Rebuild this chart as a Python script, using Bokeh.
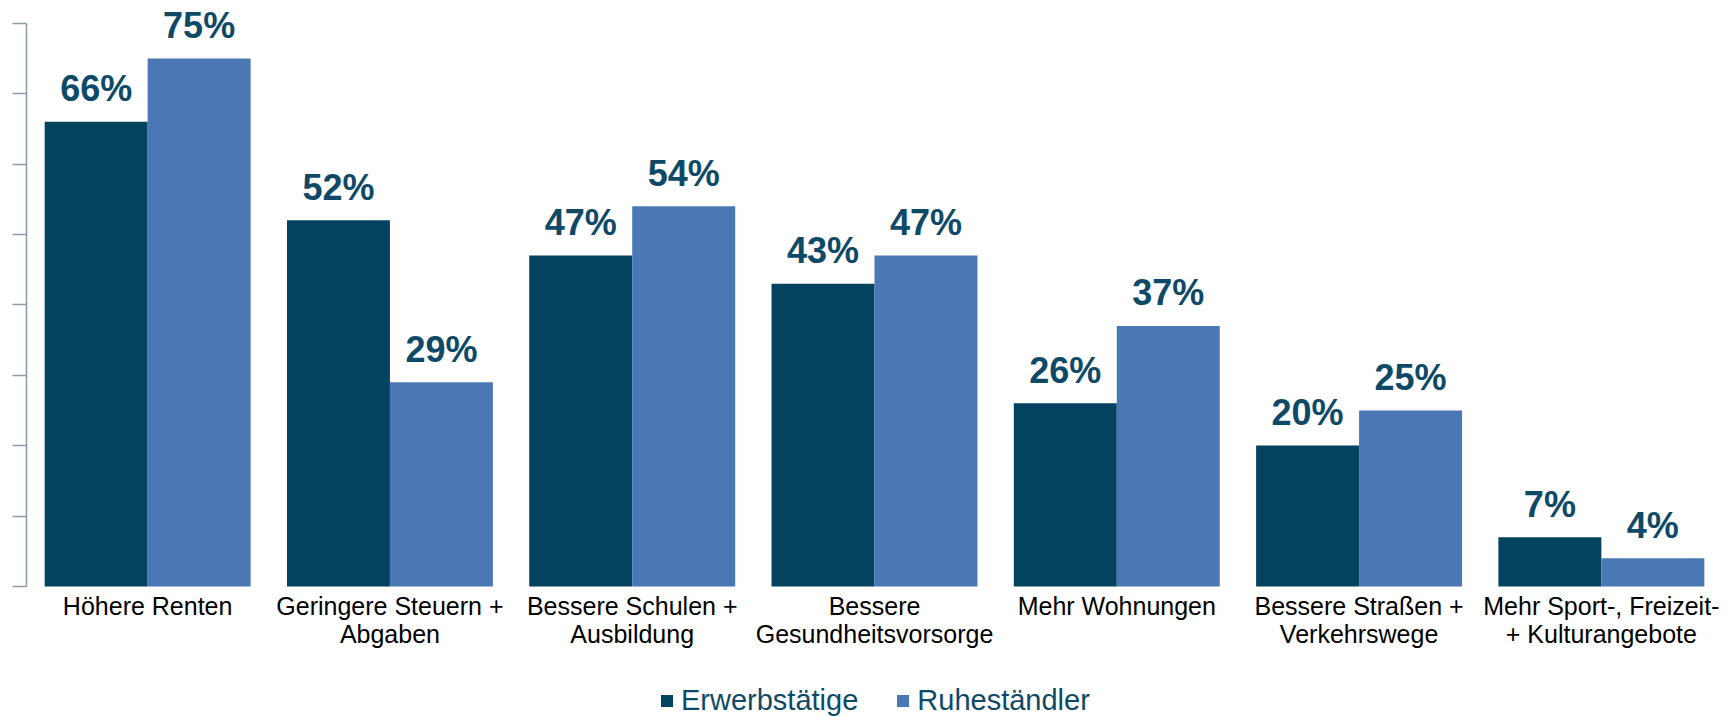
from bokeh.plotting import figure
from bokeh.models import FactorRange, Range1d, FixedTicker, Legend, LegendItem, ColumnDataSource
from bokeh.transform import dodge
from bokeh.embed import file_html
from bokeh.resources import INLINE
from bokeh.core.properties import value

categories = [
    "Höhere Renten",
    "Geringere Steuern + Abgaben",
    "Bessere Schulen + Ausbildung",
    "Bessere Gesundheitsvorsorge",
    "Mehr Wohnungen",
    "Bessere Straßen + Verkehrswege",
    "Mehr Sport-, Freizeit- + Kulturangebote",
]
label_line1 = ["Höhere Renten", "Geringere Steuern +", "Bessere Schulen +", "Bessere",
               "Mehr Wohnungen", "Bessere Straßen +", "Mehr Sport-, Freizeit-"]
label_line2 = ["", "Abgaben", "Ausbildung", "Gesundheitsvorsorge",
               "", "Verkehrswege", "+ Kulturangebote"]
series_names = ["Erwerbstätige", "Ruheständler"]
erwerbstaetige = [66, 52, 47, 43, 26, 20, 7]
ruhestaendler = [75, 29, 54, 47, 37, 25, 4]
y_ticks = [0, 10, 20, 30, 40, 50, 60, 70, 80]

DARK = "#034360"
LIGHT = "#4A78B4"
LABEL = "#0E4A68"
AXIS = "#8E99A4"
FONT = "Liberation Sans"

src = ColumnDataSource(dict(
    cat=categories,
    e=erwerbstaetige,
    r=ruhestaendler,
    el=[f"{v}%" for v in erwerbstaetige],
    rl=[f"{v}%" for v in ruhestaendler],
    zero=[0] * len(categories),
    l1=label_line1,
))
idx2 = [i for i, t in enumerate(label_line2) if t]
src2 = ColumnDataSource(dict(
    cat=[categories[i] for i in idx2],
    zero=[0] * len(idx2),
    l2=[label_line2[i] for i in idx2],
))

p = figure(
    x_range=FactorRange(factors=categories, range_padding=0),
    y_range=Range1d(-18.62, 82.09),
    frame_width=1696, frame_height=709,
    output_backend="svg", toolbar_location=None,
    min_border_left=26, min_border_right=2, min_border_top=8, min_border_bottom=0,
)

bw = 0.425
off = bw / 2
r1 = p.vbar(x=dodge("cat", -off, range=p.x_range), top="e", bottom=0, width=bw,
            fill_color=DARK, line_color=None, source=src)
r2 = p.vbar(x=dodge("cat", off, range=p.x_range), top="r", bottom=0, width=bw,
            fill_color=LIGHT, line_color=None, source=src)

for xo, col in ((-off, "e"), (off, "r")):
    p.text(x=dodge("cat", xo, range=p.x_range), y=col, text=col + "l",
           text_align="center", text_baseline="middle", y_offset=-33,
           text_font=value(FONT), text_font_style="bold", text_font_size="36px",
           text_color=LABEL, source=src)

# category labels (two lines) below the zero line
p.text(x="cat", y="zero", text="l1", text_align="center", text_baseline="middle",
       y_offset=20, text_font=value(FONT), text_font_size="25px",
       text_color="#000000", source=src)
p.text(x="cat", y="zero", text="l2", text_align="center", text_baseline="middle",
       y_offset=48, text_font=value(FONT), text_font_size="25px",
       text_color="#000000", source=src2)

p.xgrid.visible = False
p.ygrid.visible = False
p.outline_line_color = None
p.xaxis.visible = False

ya = p.yaxis[0]
ya.ticker = FixedTicker(ticks=y_ticks)
ya.bounds = (0, 80)
ya.major_label_overrides = {t: "" for t in y_ticks}
ya.major_label_text_font_size = "10px"
ya.major_label_standoff = 0
ya.major_tick_out = 14
ya.major_tick_in = 0
ya.minor_tick_line_color = None
ya.axis_line_color = AXIS
ya.major_tick_line_color = AXIS
ya.axis_line_width = 1.5
ya.major_tick_line_width = 1.5

legend = Legend(
    items=[LegendItem(label=series_names[0], renderers=[r1]),
           LegendItem(label=series_names[1], renderers=[r2])],
    orientation="horizontal", location=(633, 0),
    glyph_width=15, glyph_height=15, label_standoff=7, spacing=37,
    border_line_color=None, background_fill_alpha=0,
    label_text_font=FONT, label_text_font_size="29px", label_text_color=LABEL,
    margin=0, padding=0,
)
p.add_layout(legend, "center")

open("out.html", "w").write(file_html(p, INLINE))
